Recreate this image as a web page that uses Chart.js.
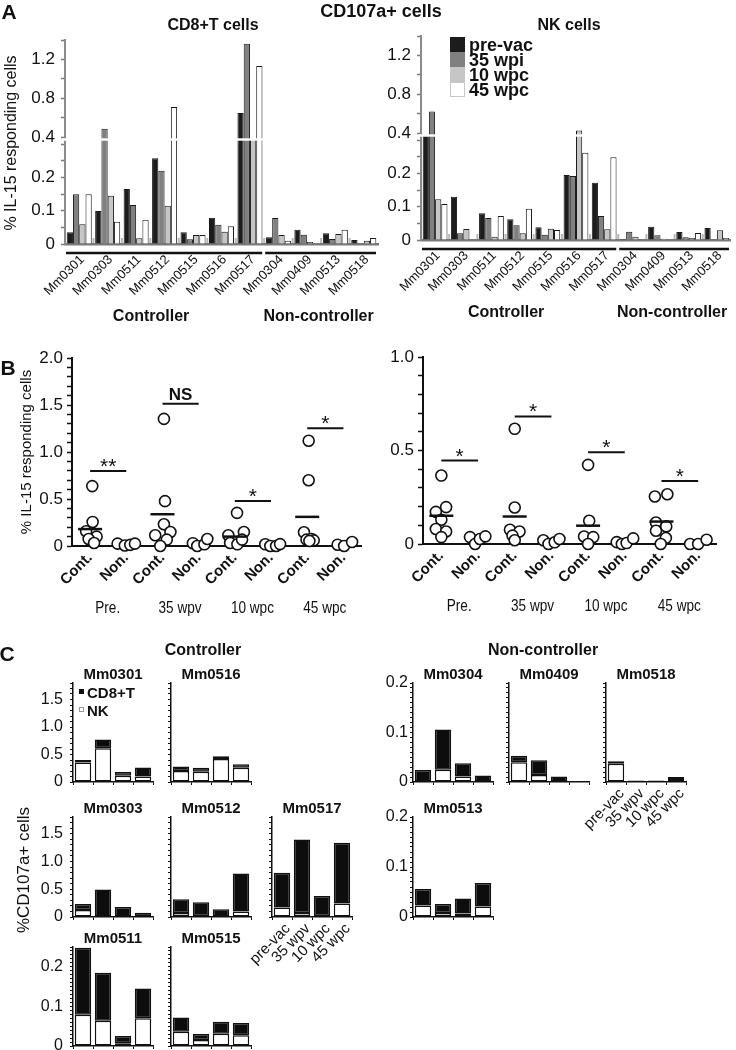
<!DOCTYPE html>
<html>
<head>
<meta charset="utf-8">
<title>CD107a+ cells</title>
<script src="https://cdn.jsdelivr.net/npm/chart.js@4.4.1/dist/chart.umd.min.js"></script>
<style>
  body { margin: 0; background: #fff; }
  #page { position: relative; width: 736px; height: 1050px; overflow: hidden; background: #fff;
          font-family: "Liberation Sans", Arial, sans-serif; color: #111; }
  #page canvas { position: absolute; }
  .txt { position: absolute; white-space: nowrap; }
  .sw { position: absolute; box-sizing: border-box; }
</style>
</head>
<body>
<div id="page"></div>
<script>
const FONT = '"Liberation Sans", Arial, sans-serif';

// ---------- panel A : % IL-15 responding cells per monkey ----------
const monkeys = ['Mm0301', 'Mm0303', 'Mm0511', 'Mm0512', 'Mm0515', 'Mm0516', 'Mm0517',
                 'Mm0304', 'Mm0409', 'Mm0513', 'Mm0518'];
const groupNames = ['Controller', 'Non-controller'];
const groupSizes = [7, 4];
const timeLabelsA = ['pre-vac', '35 wpi', '10 wpc', '45 wpc'];

const cd8PreVac = [0.035, 0.099, 0.165, 0.257, 0.035, 0.079, 0.648, 0.020, 0.043, 0.032, 0.012];
const cd8Wpi35  = [0.149, 0.486, 0.117, 0.220, 0.014, 0.058, 1.362, 0.078, 0.028, 0.015, 0.000];
const cd8Wpc10  = [0.059, 0.145, 0.017, 0.115, 0.027, 0.037, 0.355, 0.027, 0.006, 0.030, 0.010];
const cd8Wpc45  = [0.149, 0.067, 0.073, 0.710, 0.027, 0.053, 1.131, 0.010, 0.000, 0.043, 0.018];

const nkPreVac = [0.355, 0.130, 0.080, 0.062, 0.038, 0.195, 0.172, 0.003, 0.040, 0.024, 0.036];
const nkWpi35  = [0.621, 0.020, 0.066, 0.044, 0.016, 0.192, 0.072, 0.025, 0.014, 0.008, 0.002];
const nkWpc10  = [0.122, 0.033, 0.010, 0.020, 0.034, 0.427, 0.032, 0.010, 0.004, 0.006, 0.029];
const nkWpc45  = [0.108, 0.000, 0.072, 0.094, 0.030, 0.262, 0.248, 0.000, 0.000, 0.021, 0.006];

const aTicks = [0, 0.05, 0.1, 0.15, 0.2, 0.25, 0.3, 0.4, 0.6, 0.8, 1.0, 1.2, 1.4];
const aTickLabels = [0, 0.1, 0.2, 0.4, 0.8, 1.2];

// ---------- panel B : Controller vs Non-controller ----------
const bGroups = ['Cont.', 'Non.', 'Cont.', 'Non.', 'Cont.', 'Non.', 'Cont.', 'Non.'];
const bTimes = ['Pre.', '35 wpv', '10 wpc', '45 wpc'];

const bCd8Vals = [
  [0.637, 0.256, 0.157, 0.100, 0.075, 0.032],
  [0.025, 0.005, 0.012, 0.025],
  [1.352, 0.477, 0.231, 0.114, 0.149, 0.068, 0.000],
  [0.030, 0.000, 0.018, 0.075],
  [0.352, 0.114, 0.149, 0.032, 0.018, 0.068],
  [0.018, 0.000, 0.000, 0.020],
  [1.120, 0.700, 0.146, 0.068, 0.075, 0.060, 0.053],
  [0.014, 0.000, 0.043]
];
// horizontal scatter of the circles inside each column (category units)
const bCd8Jitter = [
  [0.06, 0.07, -0.11, 0.18, -0.04, 0.11],
  [-0.24, -0.04, 0.11, 0.24],
  [0.04, 0.07, 0.04, -0.20, 0.22, 0.12, -0.06],
  [-0.16, -0.04, 0.16, 0.24],
  [0.06, -0.18, 0.25, -0.13, 0.07, 0.20],
  [-0.16, -0.02, 0.14, 0.25],
  [0.04, 0.04, -0.09, -0.02, 0.12, 0.18, 0.06],
  [-0.16, 0.02, 0.24]
];
const bCd8Means = [0.18, null, 0.338, null, 0.10, null, 0.31, null];
const bCd8Sig = [0.797, 1.512, 0.48, 1.253];
const bCd8SigText = ['**', 'NS', '*', '*'];
const bCd8TickLabels = [0, 0.5, 1.0, 1.5, 2.0];

const bNkVals = [
  [0.366, 0.197, 0.172, 0.130, 0.080, 0.067, 0.037],
  [0.037, 0.000, 0.027, 0.041],
  [0.616, 0.195, 0.076, 0.067, 0.045, 0.020],
  [0.020, 0.000, 0.009, 0.027],
  [0.423, 0.124, 0.040, 0.037, 0.000],
  [0.010, 0.000, 0.005, 0.030],
  [0.254, 0.266, 0.115, 0.071, 0.094, 0.032, 0.000],
  [0.000, 0.000, 0.023]
];
const bNkJitter = [
  [0.00, 0.13, -0.15, 0.00, -0.15, 0.13, 0.00],
  [-0.22, -0.08, 0.05, 0.20],
  [0.00, 0.00, -0.13, 0.13, -0.06, 0.00],
  [-0.22, -0.08, 0.09, 0.22],
  [0.00, 0.03, -0.11, 0.14, 0.00],
  [-0.22, -0.08, 0.05, 0.23],
  [-0.18, 0.16, -0.15, -0.15, 0.13, 0.12, -0.02],
  [-0.22, 0.00, 0.23]
];
const bNkMeans = [0.151, null, 0.147, null, 0.098, null, 0.12, null];
const bNkSig = [0.446, 0.682, 0.49, 0.337];
const bNkSigText = ['*', '*', '*', '*'];
const bNkTickLabels = [0, 0.5, 1.0];

// ---------- panel C : stacked CD8+T / NK per monkey ----------
const cTimes = ['pre-vac', '35 wpv', '10 wpc', '45 wpc'];
const cNames = ['Mm0301', 'Mm0516', 'Mm0303', 'Mm0512', 'Mm0517', 'Mm0511', 'Mm0515',
                'Mm0304', 'Mm0409', 'Mm0518', 'Mm0513'];
const cNk = [
  [0.355, 0.613, 0.114, 0.102],
  [0.198, 0.186, 0.420, 0.258],
  [0.128, 0.010, 0.010, 0.000],
  [0.070, 0.020, 0.010, 0.100],
  [0.169, 0.070, 0.020, 0.244],
  [0.079, 0.064, 0.007, 0.070],
  [0.036, 0.015, 0.031, 0.027],
  [0.000, 0.025, 0.011, 0.000],
  [0.040, 0.014, 0.000, 0.001],
  [0.037, 0.000, 0.000, 0.006],
  [0.023, 0.008, 0.007, 0.021]
];
const cCd8 = [
  [0.045, 0.162, 0.066, 0.162],
  [0.084, 0.072, 0.048, 0.066],
  [0.105, 0.484, 0.170, 0.076],
  [0.250, 0.247, 0.130, 0.685],
  [0.628, 1.325, 0.358, 1.093],
  [0.169, 0.121, 0.018, 0.075],
  [0.036, 0.015, 0.030, 0.031],
  [0.024, 0.081, 0.027, 0.013],
  [0.013, 0.030, 0.011, 0.000],
  [0.005, 0.003, 0.003, 0.004],
  [0.033, 0.018, 0.030, 0.047]
];
const cBigTickLabels = [0, 0.5, 1.0, 1.5];
const cSmallTickLabels = [0, 0.1, 0.2];

// where each small plot sits on the page (axis x, zero line y, top y)
const cPlots = [
  { x: 73,  zero: 782,  top: 683, max: 1.8,  yl: true,  xl: false },
  { x: 171, zero: 782,  top: 683, max: 1.8,  yl: false, xl: false },
  { x: 73,  zero: 917,  top: 817, max: 1.8,  yl: true,  xl: false },
  { x: 171, zero: 917,  top: 817, max: 1.8,  yl: false, xl: false },
  { x: 272, zero: 917,  top: 817, max: 1.8,  yl: false, xl: true },
  { x: 73,  zero: 1046, top: 947, max: 0.25, yl: true,  xl: false },
  { x: 171, zero: 1046, top: 947, max: 0.25, yl: false, xl: false },
  { x: 413, zero: 782,  top: 683, max: 0.2,  yl: true,  xl: false },
  { x: 509, zero: 782,  top: 683, max: 0.2,  yl: false, xl: false },
  { x: 606, zero: 782,  top: 683, max: 0.2,  yl: false, xl: true },
  { x: 413, zero: 917,  top: 817, max: 0.2,  yl: true,  xl: false }
];

const barFills = ['#1c1c1c', '#808080', '#c6c6c6', '#ffffff'];

Chart.defaults.font.family = FONT;
Chart.defaults.color = '#111';
Chart.defaults.animation = false;
Chart.defaults.responsive = false;
Chart.defaults.devicePixelRatio = 1;
Chart.defaults.plugins.legend.display = false;
Chart.defaults.plugins.tooltip.enabled = false;

// y axis with a break between ~0.31 and ~0.39 (panel A)
const brkVals = [0, 0.31, 0.387, 1.4];
const brkDec = [0, 0.5064, 0.5181, 1];
class BrokenScale extends Chart.LinearScale {
  getPixelForValue(value) {
    if (value === null || isNaN(value)) return NaN;
    let i = 1;
    while (i < brkVals.length - 1 && value > brkVals[i]) i++;
    const f = (value - brkVals[i - 1]) / (brkVals[i] - brkVals[i - 1]);
    return this.getPixelForDecimal(brkDec[i - 1] + f * (brkDec[i] - brkDec[i - 1]));
  }
  getValueForPixel(pixel) {
    const d = this.getDecimalForPixel(pixel);
    let i = 1;
    while (i < brkDec.length - 1 && d > brkDec[i]) i++;
    const f = (d - brkDec[i - 1]) / (brkDec[i] - brkDec[i - 1]);
    return brkVals[i - 1] + f * (brkVals[i] - brkVals[i - 1]);
  }
}
BrokenScale.id = 'broken';
BrokenScale.defaults = Chart.LinearScale.defaults;
Chart.register(BrokenScale);

const breakBand = {
  id: 'breakBand',
  afterDatasetsDraw(chart) {
    const y = chart.scales.y, a = chart.chartArea, ctx = chart.ctx;
    const top = y.getPixelForValue(brkVals[2]);
    const bottom = y.getPixelForValue(brkVals[1]);
    ctx.save();
    ctx.fillStyle = '#fff';
    ctx.fillRect(a.left - 2, top, a.right - a.left + 4, bottom - top);
    ctx.restore();
  }
};

// group lines / labels drawn under the x axis
const groupAxis = {
  id: 'groupAxis',
  afterDraw(chart, args, o) {
    if (!o.sizes) return;
    const x = chart.scales.x, ctx = chart.ctx, bottom = chart.chartArea.bottom;
    const half = (x.getPixelForValue(1) - x.getPixelForValue(0)) / 2;
    ctx.save();
    if (o.sep) {
      ctx.fillStyle = '#b8b8b8';
      for (let i = 1; i < monkeys.length; i++) {
        ctx.fillRect(x.getPixelForValue(i) - half - 1, bottom - 6, 2, 5);
      }
    }
    ctx.strokeStyle = '#111';
    ctx.lineWidth = 2.5;
    ctx.fillStyle = '#111';
    ctx.font = o.font;
    ctx.textAlign = 'center';
    ctx.textBaseline = 'middle';
    let start = 0;
    o.sizes.forEach((n, i) => {
      const l = x.getPixelForValue(start) - half + 1;
      const r = x.getPixelForValue(start + n - 1) + half - 2;
      if (o.lines) {
        ctx.beginPath();
        ctx.moveTo(l, bottom + o.lineY);
        ctx.lineTo(r, bottom + o.lineY);
        ctx.stroke();
      }
      ctx.save();
      ctx.translate((l + r) / 2 + (o.dx ? o.dx[i] : 0), bottom + o.textY);
      if (o.squeeze) ctx.scale(o.squeeze, 1);   // condensed look of the time labels
      ctx.fillText(o.names[i], 0, 0);
      ctx.restore();
      start += n;
    });
    ctx.restore();
  }
};

// significance marks above the brackets in panel B
const sigStars = {
  id: 'sigStars',
  afterDatasetsDraw(chart, args, o) {
    if (!o.levels) return;
    const x = chart.scales.x, y = chart.scales.y, ctx = chart.ctx;
    ctx.save();
    ctx.fillStyle = '#111';
    ctx.textAlign = 'center';
    ctx.textBaseline = 'alphabetic';
    o.levels.forEach((v, i) => {
      const t = o.texts[i];
      const px = x.getPixelForValue(2 * i + 0.5);
      const py = y.getPixelForValue(v);
      if (t === 'NS') {
        ctx.font = 'bold 17px ' + FONT;
        ctx.fillText(t, px, py - 4);
      } else {
        ctx.font = '21px ' + FONT;
        ctx.fillText(t, px, py + 2);
      }
    });
    ctx.restore();
  }
};

const page = document.getElementById('page');

function addCanvas(area, pad) {
  const c = document.createElement('canvas');
  const w = area.r - area.l + pad.l + pad.r;
  const h = area.b - area.t + pad.t + pad.b;
  c.width = w;
  c.height = h;
  c.style.width = w + 'px';
  c.style.height = h + 'px';
  c.style.left = (area.l - pad.l) + 'px';
  c.style.top = (area.t - pad.t) + 'px';
  page.appendChild(c);
  return c;
}

function addText(text, x, y, font, mode) {
  const d = document.createElement('div');
  d.className = 'txt';
  d.textContent = text;
  d.style.font = font;
  d.style.lineHeight = '1';
  d.style.left = x + 'px';
  d.style.top = y + 'px';
  if (mode === 'rot') d.style.transform = 'translate(-50%, -50%) rotate(-90deg)';
  else if (mode === 'left') d.style.transform = 'translate(0, -50%)';
  else d.style.transform = 'translate(-50%, -50%)';
  page.appendChild(d);
}

function fmt(v) {
  return v === 0 ? '0' : v.toFixed(1);
}

function hasLabel(list, v) {
  return list.some(l => Math.abs(l - v) < 1e-9);
}

function panelA(series, area, pad, dx) {
  const canvas = addCanvas(area, pad);
  new Chart(canvas, {
    type: 'bar',
    data: {
      labels: monkeys,
      datasets: series.map((d, i) => ({
        label: timeLabelsA[i],
        data: d,
        backgroundColor: barFills[i],
        borderColor: '#1a1a1a',
        borderWidth: 1,
        categoryPercentage: 0.88,
        barPercentage: 1
      }))
    },
    options: {
      layout: { padding: { top: pad.t, right: pad.r, left: 0, bottom: 0 } },
      scales: {
        x: {
          grid: { display: false, drawTicks: false },
          border: { color: '#7a7a7a', width: 2.5 },
          ticks: { font: { size: 13 }, minRotation: 45, maxRotation: 45, autoSkip: false, padding: 8, labelOffset: 3 },
          afterFit: s => { s.height = pad.b; }
        },
        y: {
          type: 'broken',
          min: 0,
          max: 1.4,
          afterBuildTicks: s => { s.ticks = aTicks.map(v => ({ value: v })); },
          ticks: {
            autoSkip: false,
            font: { size: 17 },
            padding: 6,
            callback: v => hasLabel(aTickLabels, v) ? fmt(v) : ''
          },
          grid: { drawOnChartArea: false, tickLength: 4, color: '#7a7a7a', tickWidth: 1.5 },
          border: { color: '#8a8a8a', width: 2 },
          afterFit: s => { s.width = pad.l; }
        }
      },
      plugins: {
        groupAxis: {
          sizes: groupSizes, names: groupNames, lines: true, sep: true,
          lineY: 9, textY: 73, dx: dx, font: 'bold 16px ' + FONT
        }
      }
    },
    plugins: [breakBand, groupAxis]
  });
}

function panelB(vals, jitter, means, sig, sigText, yMax, yLabels, area, pad) {
  const canvas = addCanvas(area, pad);
  const points = [];
  vals.forEach((g, i) => g.forEach((v, k) => points.push({ x: i + jitter[i][k], y: v })));
  const meanPoints = [];
  means.forEach((m, i) => { if (m !== null) meanPoints.push({ x: i, y: m }); });
  const brackets = sig.map((s, i) => ({
    type: 'line',
    data: [{ x: 2 * i, y: s }, { x: 2 * i + 1, y: s }],
    borderColor: '#111',
    borderWidth: 2,
    pointRadius: 0,
    clip: false
  }));
  const minor = [];
  for (let i = 0; i <= Math.round(yMax * 10); i++) minor.push({ value: i / 10 });

  new Chart(canvas, {
    type: 'scatter',
    data: {
      datasets: [
        { data: meanPoints, pointStyle: 'line', pointRadius: 12, pointBorderColor: '#111', pointBorderWidth: 2.5, clip: false },
        { data: points, pointRadius: 5.5, pointBackgroundColor: '#fff', pointBorderColor: '#111', pointBorderWidth: 1.6, clip: false },
        ...brackets
      ]
    },
    options: {
      layout: { padding: { top: pad.t, right: pad.r, left: 0, bottom: 0 } },
      scales: {
        x: {
          type: 'linear',
          min: -0.5,
          max: 7.5,
          afterBuildTicks: s => { s.ticks = bGroups.map((g, i) => ({ value: i })); },
          ticks: {
            autoSkip: false,
            callback: (v, i) => bGroups[i],
            font: { size: 15, weight: 'bold' },
            minRotation: 45,
            maxRotation: 45,
            padding: 3
          },
          grid: { display: false, drawTicks: false },
          border: { color: '#111', width: 2 },
          afterFit: s => { s.height = pad.b; }
        },
        y: {
          min: 0,
          max: yMax,
          afterBuildTicks: s => { s.ticks = minor.slice(); },
          ticks: {
            autoSkip: false,
            font: { size: 17 },
            padding: 4,
            callback: v => hasLabel(yLabels, v) ? fmt(v) : ''
          },
          grid: { drawOnChartArea: false, tickLength: 5, color: '#111', tickWidth: 1.5 },
          border: { color: '#111', width: 2 },
          afterFit: s => { s.width = pad.l; }
        }
      },
      plugins: {
        sigStars: { levels: sig, texts: sigText },
        groupAxis: { sizes: [2, 2, 2, 2], names: bTimes, lines: false, textY: 62, squeeze: 0.8, font: '17px ' + FONT }
      }
    },
    plugins: [sigStars, groupAxis]
  });
}

function panelC(k) {
  const geo = cPlots[k];
  const big = geo.max > 1;
  const step = big ? 0.1 : 0.01;
  const labels = big ? cBigTickLabels : cSmallTickLabels;
  const minor = [];
  for (let i = 0; i <= Math.round(geo.max / step); i++) minor.push({ value: Math.round(i * step * 100) / 100 });
  const area = { l: geo.x, r: geo.x + 80, t: geo.top, b: geo.zero };
  const pad = { l: 45, t: 22, r: 6, b: geo.xl ? 70 : 22 };
  const canvas = addCanvas(area, pad);
  new Chart(canvas, {
    type: 'bar',
    data: {
      labels: cTimes,
      datasets: [
        { label: 'NK', data: cNk[k], backgroundColor: '#fff', borderColor: '#111', borderWidth: 1.5,
          borderSkipped: false, barPercentage: 0.82, categoryPercentage: 1 },
        { label: 'CD8+T', data: cCd8[k], backgroundColor: '#0d0d0d', borderColor: '#111', borderWidth: 1.5,
          borderSkipped: false, barPercentage: 0.82, categoryPercentage: 1 }
      ]
    },
    options: {
      layout: { padding: { top: pad.t, right: pad.r, left: 0, bottom: 0 } },
      scales: {
        x: {
          stacked: true,
          grid: { offset: true, drawOnChartArea: false, tickLength: 3, color: '#111' },
          border: { color: '#111', width: 1.5 },
          ticks: { display: geo.xl, font: { size: 15 }, minRotation: 45, maxRotation: 45, autoSkip: false, padding: 0, labelOffset: 6 },
          afterFit: s => { s.height = pad.b; }
        },
        y: {
          stacked: true,
          min: 0,
          max: geo.max,
          afterBuildTicks: s => { s.ticks = minor.slice(); },
          ticks: {
            display: geo.yl,
            autoSkip: false,
            font: { size: 16 },
            padding: geo.x < 300 ? 7 : 2,
            callback: v => hasLabel(labels, v) ? fmt(v) : ''
          },
          grid: { drawOnChartArea: false, tickLength: 3, color: '#111' },
          border: { color: '#111', width: 1.5 },
          afterFit: s => { s.width = pad.l; }
        }
      }
    }
  });
  addText(cNames[k], geo.x + 40, geo.top - 10, 'bold 15px ' + FONT);
}

// ---------- build ----------
panelA([cd8PreVac, cd8Wpi35, cd8Wpc10, cd8Wpc45],
       { l: 65, r: 379, t: 40, b: 244 }, { l: 65, t: 20, r: 4, b: 90 }, [-13, -2]);
panelA([nkPreVac, nkWpi35, nkWpc10, nkWpc45],
       { l: 421, r: 734, t: 36, b: 240 }, { l: 60, t: 20, r: 2, b: 90 }, [-13, -2]);

panelB(bCd8Vals, bCd8Jitter, bCd8Means, bCd8Sig, bCd8SigText, 2, bCd8TickLabels,
       { l: 72, r: 372, t: 358, b: 546 }, { l: 70, t: 20, r: 4, b: 75 });
panelB(bNkVals, bNkJitter, bNkMeans, bNkSig, bNkSigText, 1, bNkTickLabels,
       { l: 423, r: 723, t: 357, b: 544 }, { l: 60, t: 20, r: 8, b: 75 });

cNames.forEach((n, k) => panelC(k));

// titles and free text
addText('A', 9, 11, 'bold 21px ' + FONT);
addText('CD107a+ cells', 381, 11, 'bold 18px ' + FONT);
addText('CD8+T cells', 213, 25, 'bold 16px ' + FONT);
addText('NK cells', 569, 25, 'bold 16px ' + FONT);
addText('% IL-15 responding cells', 11, 143, '16px ' + FONT, 'rot');

addText('B', 8, 367, 'bold 21px ' + FONT);
addText('% IL-15 responding cells', 25, 452, '15px ' + FONT, 'rot');

addText('C', 7, 653, 'bold 21px ' + FONT);
addText('Controller', 203, 650, 'bold 16px ' + FONT);
addText('Non-controller', 543, 650, 'bold 16px ' + FONT);
addText('%CD107a+ cells', 23, 870, '17px ' + FONT, 'rot');

// legend of panel A (inside the NK plot)
timeLabelsA.forEach((t, i) => {
  const s = document.createElement('div');
  s.className = 'sw';
  s.style.left = '450px';
  s.style.top = (37 + 15 * i) + 'px';
  s.style.width = '15px';
  s.style.height = '15px';
  s.style.background = barFills[i];
  s.style.border = '1px solid ' + (i === 3 ? '#c8c8c8' : barFills[i]);
  page.appendChild(s);
  addText(t, 469, 45 + 15 * i, 'bold 18px ' + FONT, 'left');
});

// legend of panel C (inside Mm0301)
[['CD8+T', '#0d0d0d', '#0d0d0d', 692], ['NK', '#fff', '#999', 710]].forEach(([t, fill, line, y]) => {
  const s = document.createElement('div');
  s.className = 'sw';
  s.style.left = '79px';
  s.style.top = (y - 3) + 'px';
  s.style.width = '5px';
  s.style.height = '5px';
  s.style.background = fill;
  s.style.border = '1px solid ' + line;
  page.appendChild(s);
  addText(t, 87, y, 'bold 15px ' + FONT, 'left');
});
</script>
</body>
</html>
